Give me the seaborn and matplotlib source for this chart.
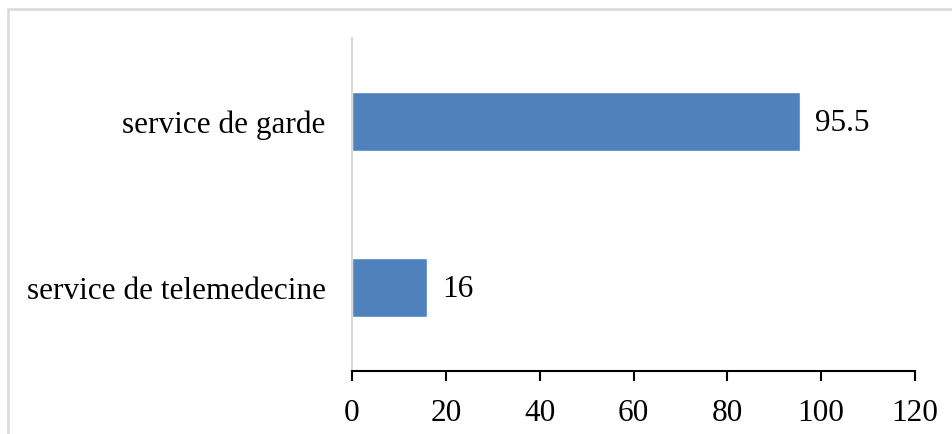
import matplotlib
matplotlib.use("Agg")
import matplotlib.pyplot as plt
import matplotlib.patches as mpatches
import seaborn as sns
import pandas as pd

categories = ["service de garde", "service de telemedecine"]
values = [95.5, 16]
x_ticks = [0, 20, 40, 60, 80, 100, 120]

df = pd.DataFrame({"service": categories, "valeur": values})

sns.set_style("white")
plt.rcParams["font.family"] = ["Liberation Serif", "DejaVu Serif"]
plt.rcParams["text.color"] = "black"
plt.rcParams["xtick.color"] = "black"
plt.rcParams["ytick.color"] = "black"

FS = 22.5

fig = plt.figure(figsize=(9.53, 4.34), dpi=100)
ax = fig.add_axes([352 / 953, 1 - 371 / 434, (915 - 352) / 953, (371 - 38) / 434])

sns.barplot(data=df, x="valeur", y="service", orient="h", color="#4F81BD",
            saturation=1, width=0.355, ax=ax)

ax.set_xlim(0, 120)
ax.set_ylim(1.5, -0.5)
ax.set_xticks(x_ticks)
ax.set_xticklabels([str(t) for t in x_ticks])
ax.set_xlabel("")
ax.set_ylabel("")

for i, v in enumerate(values):
    ax.annotate(f"{v:g}", xy=(v, i), xytext=(11, -1.5), textcoords="offset points",
                ha="left", va="center", fontsize=FS, color="black")

for s in ["top", "right"]:
    ax.spines[s].set_visible(False)
ax.spines["left"].set_color("#D9D9D9")
ax.spines["left"].set_linewidth(1.5)
ax.spines["bottom"].set_color("black")
ax.spines["bottom"].set_linewidth(1.5)

ax.tick_params(axis="x", direction="out", length=7, width=1.5, color="black",
               labelsize=FS, pad=13, bottom=True)
ax.tick_params(axis="y", length=0, labelsize=FS, pad=19)

# Chart area border
fig.patches.append(mpatches.Rectangle((8 / 953, -0.1), 1.2, 1 - 9 / 434 + 0.1,
                                      transform=fig.transFigure, fill=False,
                                      edgecolor="#D9D9D9", linewidth=1.8))

fig.savefig("out.png", dpi=100, facecolor="white")
